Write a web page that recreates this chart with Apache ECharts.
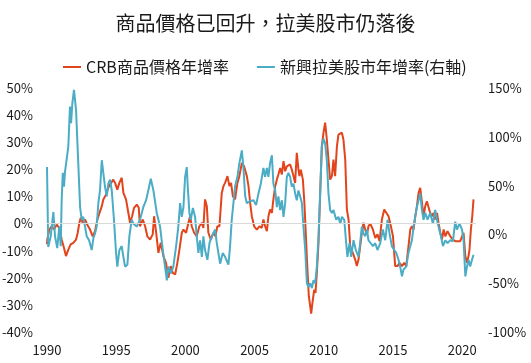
<!DOCTYPE html>
<html>
<head>
<meta charset="utf-8">
<script src="https://cdn.jsdelivr.net/npm/echarts@6/dist/echarts.min.js"></script>
<style>html,body{margin:0;padding:0;background:#fff}#c{width:531px;height:363px}</style>
</head>
<body>
<div id="c"></div>
<script>
const titleText = '商品價格已回升，拉美股市仍落後';
const seriesNames = ['CRB商品價格年增率', '新興拉美股市年增率(右軸)'];
const xTickYears = [1990, 1995, 2000, 2005, 2010, 2015, 2020];

const crbYears = [1990.00,1990.02,1990.17,1990.34,1990.51,1990.70,1990.89,1991.06,1991.23,1991.37,1991.54,1991.71,1991.90,1992.10,1992.22,1992.34,1992.44,1992.58,1992.75,1992.91,1993.11,1993.30,1993.47,1993.64,1993.83,1993.96,1994.07,1994.27,1994.43,1994.56,1994.79,1994.92,1995.08,1995.23,1995.40,1995.52,1995.71,1995.88,1996.00,1996.15,1996.29,1996.49,1996.63,1996.72,1996.92,1997.09,1997.25,1997.45,1997.64,1997.74,1997.89,1998.05,1998.22,1998.41,1998.60,1998.77,1998.94,1999.09,1999.26,1999.42,1999.57,1999.74,1999.86,2000.05,2000.22,2000.34,2000.46,2000.63,2000.82,2001.01,2001.19,2001.30,2001.42,2001.55,2001.66,2001.84,2002.02,2002.17,2002.31,2002.46,2002.63,2002.75,2002.87,2003.04,2003.18,2003.30,2003.43,2003.59,2003.76,2003.90,2004.08,2004.24,2004.44,2004.56,2004.68,2004.80,2004.97,2005.16,2005.35,2005.52,2005.64,2005.76,2005.89,2006.00,2006.12,2006.25,2006.36,2006.49,2006.61,2006.72,2006.85,2006.97,2007.09,2007.21,2007.33,2007.45,2007.57,2007.69,2007.81,2007.93,2008.05,2008.17,2008.24,2008.34,2008.49,2008.60,2008.73,2008.82,2008.92,2009.02,2009.09,2009.18,2009.31,2009.40,2009.50,2009.62,2009.74,2009.86,2009.98,2010.10,2010.22,2010.34,2010.46,2010.59,2010.70,2010.82,2010.95,2011.06,2011.19,2011.31,2011.42,2011.55,2011.67,2011.79,2011.91,2012.10,2012.27,2012.39,2012.51,2012.63,2012.75,2012.87,2012.99,2013.12,2013.23,2013.36,2013.55,2013.72,2013.88,2014.03,2014.20,2014.37,2014.51,2014.68,2014.85,2015.00,2015.16,2015.33,2015.47,2015.65,2015.81,2015.96,2016.12,2016.25,2016.37,2016.49,2016.61,2016.73,2016.85,2016.97,2017.09,2017.21,2017.33,2017.45,2017.57,2017.69,2017.81,2017.93,2018.05,2018.18,2018.29,2018.42,2018.54,2018.66,2018.78,2018.94,2019.14,2019.33,2019.50,2019.67,2019.86,2019.99,2020.10,2020.23,2020.35,2020.46,2020.53,2020.63,2020.73,2020.82];
const crbValues = [-7.7,-5.9,-2.2,-1,-2.2,-0.4,-1.6,-5.9,-9,-12,-9.6,-7.7,-7.1,-5.9,-3.4,0.3,2.1,0.3,1.5,-0.4,-2.2,-4.7,-2.8,1.5,4.5,6.4,8.9,10.7,13.2,14.4,16.2,15,12.5,15,16.9,11.3,8.9,3.9,0.3,2.7,5.8,7,5.8,-1,1.5,-1,-4.7,-5.9,-4,2.7,-3.4,-10.8,-7.1,-12,-14.5,-20,-15.7,-18.2,-18.8,-14.5,-9.6,-3.4,-2.2,-3.4,0.3,2.7,-1,-3.4,-4.7,-1,0.3,-1.6,8.9,6.4,-3.4,-5.9,-3.4,-4.7,-1,-1,11.3,13.8,15,17.5,13.8,15,10.1,8.9,15,17.5,22.4,21.1,17.5,13.8,7.6,2.7,-1,-2.2,-1,-1.6,1.5,-1,-2.8,2.7,5.2,3.9,8.9,13.8,16.2,18.1,20.5,18.1,23,19.3,21.1,20.5,21.8,19.9,17.5,15,26.1,19.9,17.5,19.9,16.2,7.6,-7.1,-17,-26.8,-30.5,-33.2,-29.3,-24.4,-25.6,-18.2,-7.1,11.3,28.5,33.5,37.2,31,23.6,16.2,17.5,23.6,17.5,28.5,32.8,32.2,33.5,31,23.6,5.2,1.5,-8.4,-10.8,-13.3,-15.7,-13.3,-8.4,-3.4,0.3,-2.2,-4,-1,0,-2.2,-5.3,-4,-6.5,1.5,5.2,5.8,2.7,-1,-4.7,-15.7,-15.7,-14.5,-15.7,-14.5,-15.7,-8.4,-2.2,-1,-2.2,2.7,6.4,11.3,13.2,12.5,2.7,6.4,8.2,7.6,3.9,2.7,3.9,1.5,3.9,0.3,-3.4,-5.9,-2.2,-4.7,-2.8,-4.7,-5.9,-6.5,-6.5,-6.5,-6.5,-3.4,-12,-14.5,-12,-9.6,-2.2,2.7,8.9];

const latamYears = [1990.00,1990.09,1990.27,1990.46,1990.58,1990.74,1990.89,1990.99,1991.06,1991.14,1991.23,1991.30,1991.42,1991.54,1991.66,1991.74,1991.83,1991.95,1992.10,1992.26,1992.39,1992.51,1992.62,1992.75,1992.87,1993.04,1993.23,1993.35,1993.47,1993.59,1993.71,1993.83,1993.96,1994.07,1994.19,1994.32,1994.43,1994.56,1994.68,1994.84,1994.99,1995.08,1995.23,1995.40,1995.52,1995.64,1995.81,1995.95,1996.12,1996.24,1996.49,1996.72,1996.96,1997.16,1997.32,1997.50,1997.69,1997.93,1998.17,1998.37,1998.53,1998.66,1998.77,1998.94,1999.13,1999.33,1999.49,1999.62,1999.74,1999.86,1999.98,2000.10,2000.17,2000.29,2000.39,2000.54,2000.70,2000.82,2000.94,2001.06,2001.19,2001.30,2001.42,2001.59,2001.74,2001.91,2002.15,2002.27,2002.51,2002.70,2002.87,2003.11,2003.23,2003.35,2003.47,2003.59,2003.76,2003.90,2004.08,2004.19,2004.32,2004.44,2004.68,2004.92,2005.11,2005.28,2005.45,2005.64,2005.76,2005.89,2006.00,2006.12,2006.25,2006.36,2006.49,2006.61,2006.72,2006.85,2006.97,2007.09,2007.21,2007.33,2007.45,2007.57,2007.69,2007.81,2007.93,2008.05,2008.17,2008.29,2008.42,2008.53,2008.66,2008.78,2008.89,2009.02,2009.14,2009.26,2009.38,2009.50,2009.62,2009.74,2009.86,2009.98,2010.10,2010.22,2010.34,2010.46,2010.59,2010.70,2010.90,2011.06,2011.19,2011.31,2011.48,2011.62,2011.71,2011.86,2011.98,2012.15,2012.32,2012.51,2012.63,2012.75,2012.87,2012.99,2013.12,2013.23,2013.36,2013.55,2013.72,2013.88,2014.08,2014.27,2014.44,2014.61,2014.75,2014.92,2015.09,2015.24,2015.40,2015.52,2015.65,2015.76,2015.96,2016.12,2016.25,2016.37,2016.49,2016.61,2016.73,2016.85,2016.97,2017.09,2017.21,2017.33,2017.50,2017.69,2017.89,2018.05,2018.18,2018.29,2018.47,2018.61,2018.78,2018.94,2019.14,2019.33,2019.50,2019.62,2019.81,2019.99,2020.10,2020.23,2020.35,2020.46,2020.58,2020.71,2020.82];
const latamValues = [69,-13,-2,23,-2,-14,8,-12,35,63,49,64,66,90,131,114,134,148,127,73,28,15,18,8,-2,-6,-16,-4,1,8,32,45,76,63,49,39,52,56,45,15,-19,-33,-16,-12,-23,-33,-31,-2,15,11,8,15,28,35,45,57,45,22,8,-16,-33,-47,-33,-40,-33,-12,8,32,18,28,59,69,49,22,15,27,18,-2,-19,-6,-23,-2,-16,-26,-9,-2,5,-9,-30,-19,-23,-31,-12,15,32,49,59,73,86,69,39,32,34,35,30,42,52,68,59,68,59,73,81,52,45,28,39,25,35,18,32,59,63,59,49,52,42,35,45,39,32,8,-16,-50,-54,-50,-55,-47,-50,-33,-2,42,90,98,93,76,42,25,22,25,15,18,11,18,15,-9,-23,-9,-23,-6,-16,-23,-9,8,1,-2,5,-6,-4,-12,-9,-16,-9,5,-6,15,1,-12,-16,-19,-26,-33,-43,-36,-33,-19,-12,-6,8,18,28,35,42,25,15,22,15,22,11,25,15,8,-2,-12,-6,-9,-6,-7,13,5,11,5,-6,-43,-33,-26,-33,-26,-21];

const leftAxisTicks = { min: -40, max: 50, interval: 10 };
const rightAxisTicks = { min: -100, max: 150, interval: 50 };

const crbData = crbYears.map((y, i) => [y, crbValues[i]]);
const latamData = latamYears.map((y, i) => [y, latamValues[i]]);

const FONT = '"Noto Sans CJK TC", "Noto Sans", sans-serif';
const chart = echarts.init(document.getElementById('c'), null, { renderer: 'canvas' });
chart.setOption({
  animation: false,
  backgroundColor: '#ffffff',
  textStyle: { fontFamily: FONT },
  title: {
    text: titleText, left: 'center', top: 8,
    textStyle: { fontSize: 20, fontWeight: 'normal', color: '#1a1a1a', fontFamily: FONT }
  },
  legend: {
    top: 54, left: 58, itemGap: 28, itemWidth: 18, itemHeight: 2, icon: 'rect',
    textStyle: { fontSize: 16, color: '#1a1a1a', fontFamily: FONT },
    data: seriesNames
  },
  grid: { left: 47, top: 88, width: 429, height: 244, containLabel: false, outerBoundsMode: 'none' },
  xAxis: {
    type: 'value', min: 1990, max: 2021, interval: 5,
    axisLine: { show: false }, axisTick: { show: false }, splitLine: { show: false },
    axisLabel: {
      margin: 12, fontSize: 13, color: '#1a1a1a', fontFamily: FONT,
      formatter: v => (xTickYears.indexOf(v) >= 0 ? String(v) : '')
    }
  },
  yAxis: [
    {
      type: 'value', min: leftAxisTicks.min, max: leftAxisTicks.max, interval: leftAxisTicks.interval,
      axisLine: { show: false }, axisTick: { show: false }, splitLine: { show: false },
      axisLabel: { margin: 14, fontSize: 13, color: '#1a1a1a', fontFamily: FONT, formatter: '{value}%' }
    },
    {
      type: 'value', position: 'right', min: rightAxisTicks.min, max: rightAxisTicks.max, interval: rightAxisTicks.interval,
      axisLine: { show: false }, axisTick: { show: false }, splitLine: { show: false },
      axisLabel: { margin: 12, fontSize: 13, color: '#1a1a1a', fontFamily: FONT, formatter: '{value}%' }
    }
  ],
  series: [
    {
      name: seriesNames[0], type: 'line', yAxisIndex: 0, data: crbData,
      showSymbol: false, symbol: 'none', color: '#E2441C',
      lineStyle: { width: 2, color: '#E2441C' },
      markLine: {
        silent: true, symbol: 'none', label: { show: false },
        lineStyle: { color: '#d9d9d9', width: 1, type: 'solid' },
        data: [{ yAxis: 0 }]
      }
    },
    {
      name: seriesNames[1], type: 'line', yAxisIndex: 1, data: latamData,
      showSymbol: false, symbol: 'none', color: '#4BACC6',
      lineStyle: { width: 2, color: '#4BACC6' }
    }
  ]
});
</script>
</body>
</html>
